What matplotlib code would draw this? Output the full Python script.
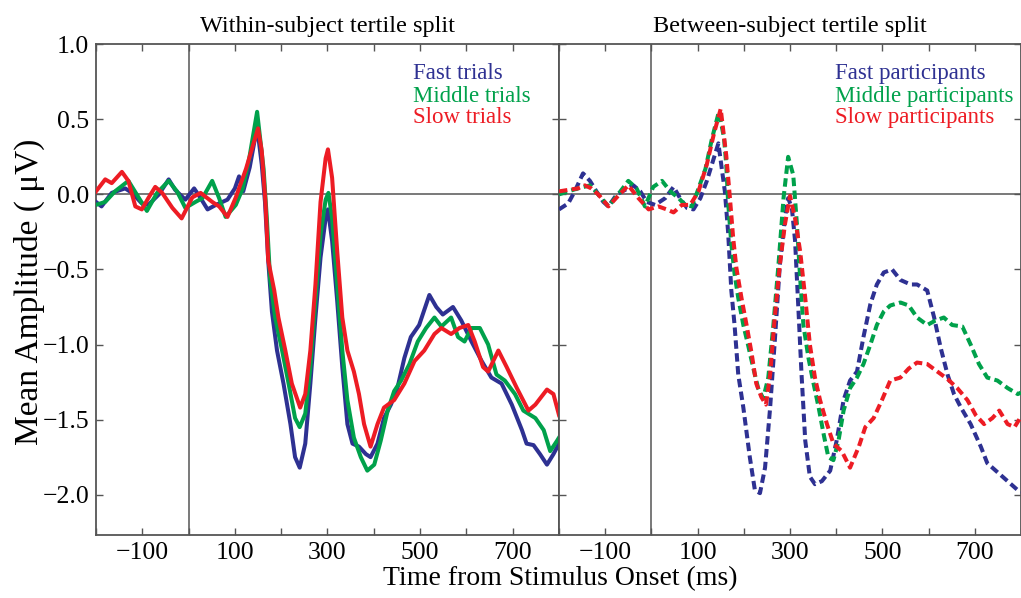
import numpy as np
import matplotlib
matplotlib.use("Agg")
import matplotlib.pyplot as plt

# within-subject split (solid lines), times in ms, amplitude in uV
t_fast_trials = [-200, -188, -166, -137, -122, -101, -87, -64, -43, -29, -7, 12, 26, 41, 59, 84, 100, 109, 118,
                 132, 148, 158, 165, 172, 180, 191, 205, 220, 230, 240, 252, 263, 274, 285, 296, 301, 310, 321,
                 332, 343, 354, 368, 383, 393, 408, 422, 437, 451, 466, 480, 498, 520, 535, 549, 571, 589, 611,
                 633, 654, 676, 698, 720, 730, 745, 759, 774, 788, 800]
v_fast_trials = [-0.05, -0.08, 0.01, 0.04, 0.01, -0.06, -0.07, 0.0, 0.10, 0.03, -0.035, 0.04, -0.025, -0.10, -0.07,
                 -0.035, 0.04, 0.12, 0.02, 0.18, 0.45, 0.20, -0.05, -0.44, -0.78, -1.04, -1.26, -1.53, -1.75, -1.82,
                 -1.66, -1.26, -0.82, -0.42, -0.16, -0.10, -0.31, -0.71, -1.15, -1.53, -1.66, -1.68, -1.73, -1.75,
                 -1.66, -1.49, -1.40, -1.29, -1.09, -0.95, -0.87, -0.67, -0.75, -0.80, -0.75, -0.84, -0.98, -1.11,
                 -1.22, -1.26, -1.40, -1.57, -1.66, -1.67, -1.73, -1.80, -1.73, -1.66]

t_mid_trials = [-200, -180, -159, -130, -112, -90, -68, -43, -25, -7, 15, 30, 51, 66, 80, 102, 117, 131, 148, 162,
                169, 176, 187, 202, 216, 230, 240, 252, 263, 274, 285, 296, 302, 310, 321, 332, 343, 357, 372, 386,
                401, 415, 430, 444, 459, 477, 495, 513, 531, 546, 567, 582, 596, 611, 629, 647, 665, 683, 705, 723,
                749, 767, 781, 796, 800]
v_mid_trials = [-0.07, -0.05, 0.02, 0.09, 0.0, -0.11, 0.01, 0.09, 0.02, -0.09, -0.05, -0.025, 0.09, -0.025, -0.15,
                -0.07, 0.04, 0.24, 0.55, 0.17, -0.16, -0.56, -0.82, -1.04, -1.26, -1.49, -1.55, -1.46, -1.15, -0.71,
                -0.27, -0.035, 0.01, -0.16, -0.60, -1.04, -1.37, -1.62, -1.75, -1.84, -1.80, -1.64, -1.44, -1.31,
                -1.24, -1.13, -0.98, -0.89, -0.82, -0.88, -0.82, -0.95, -0.98, -0.89, -0.89, -1.00, -1.20, -1.24,
                -1.33, -1.44, -1.49, -1.57, -1.71, -1.64, -1.62]

t_slow_trials = [-200, -180, -166, -144, -130, -115, -101, -87, -72, -57, -35, -15, 8, 26, 51, 66, 84, 102, 124,
                 150, 158, 166, 172, 185, 194, 209, 223, 241, 252, 263, 274, 285, 296, 301, 310, 321, 332, 343, 357,
                 368, 379, 393, 408, 422, 444, 466, 488, 509, 531, 546, 567, 585, 604, 618, 636, 647, 669, 687, 709,
                 734, 749, 774, 788, 800]
v_slow_trials = [0.02, 0.10, 0.075, 0.15, 0.09, -0.08, -0.10, -0.025, 0.05, 0.01, -0.09, -0.16, -0.02, 0.01, -0.05,
                 -0.08, -0.15, -0.02, 0.17, 0.44, 0.29, -0.05, -0.44, -0.64, -0.82, -1.04, -1.26, -1.42, -1.33,
                 -1.04, -0.60, -0.05, 0.24, 0.30, 0.11, -0.38, -0.82, -1.04, -1.18, -1.33, -1.53, -1.68, -1.53,
                 -1.42, -1.37, -1.26, -1.11, -1.04, -0.93, -0.89, -0.93, -0.89, -0.87, -0.98, -1.15, -1.18, -1.04,
                 -1.15, -1.29, -1.44, -1.40, -1.30, -1.33, -1.47]

# between-subject split (dashed lines)
t_fast_part = [-200, -180, -166, -148, -133, -119, -104, -93, -75, -57, -39, -24, -10, 8, 30, 48, 62, 77, 91, 106,
               120, 135, 145, 159, 166, 173, 180, 188, 199, 213, 224, 235, 246, 257, 267, 278, 289, 296, 304, 311,
               318, 325, 333, 343, 354, 369, 387, 401, 416, 430, 445, 459, 474, 488, 503, 521, 539, 561, 575, 597,
               612, 626, 641, 655, 670, 691, 713, 727, 749, 771, 793, 800]
v_fast_part = [-0.10, -0.06, 0.02, 0.14, 0.09, 0.02, -0.05, -0.08, 0.0, 0.03, 0.06, 0.02, -0.05, -0.07, -0.025, 0.05,
               -0.025, -0.09, -0.10, -0.025, 0.09, 0.24, 0.34, 0.02, -0.25, -0.64, -0.87, -1.20, -1.42, -1.75, -1.97,
               -1.99, -1.82, -1.42, -0.98, -0.47, -0.16, -0.025, -0.09, -0.31, -0.75, -1.20, -1.64, -1.88, -1.93,
               -1.91, -1.84, -1.64, -1.37, -1.24, -1.18, -0.95, -0.73, -0.60, -0.52, -0.50, -0.57, -0.60, -0.60,
               -0.64, -0.82, -1.02, -1.20, -1.33, -1.42, -1.53, -1.68, -1.79, -1.85, -1.91, -1.97, -1.98]

t_mid_part = [-200, -180, -159, -133, -115, -93, -72, -50, -32, -14, 4, 23, 41, 59, 73, 88, 102, 117, 131, 146,
              157, 162, 166, 173, 180, 188, 199, 209, 220, 231, 242, 253, 264, 275, 286, 296, 307, 315, 322, 329,
              340, 351, 362, 373, 383, 394, 405, 416, 430, 445, 459, 474, 488, 503, 517, 539, 557, 575, 597, 615,
              633, 651, 673, 691, 709, 727, 749, 771, 793, 800]
v_mid_part = [0.0, 0.02, 0.04, 0.06, 0.0, -0.08, 0.0, 0.09, 0.04, -0.08, 0.05, 0.09, 0.02, -0.025, -0.07, -0.08,
              0.04, 0.17, 0.37, 0.55, 0.38, 0.20, -0.05, -0.33, -0.53, -0.69, -0.87, -1.00, -1.15, -1.29, -1.36,
              -1.22, -0.87, -0.47, -0.025, 0.25, 0.13, -0.20, -0.56, -0.87, -1.09, -1.26, -1.42, -1.60, -1.75,
              -1.77, -1.64, -1.44, -1.29, -1.22, -1.13, -1.00, -0.87, -0.78, -0.74, -0.72, -0.74, -0.82, -0.87,
              -0.84, -0.82, -0.87, -0.88, -1.00, -1.13, -1.22, -1.24, -1.29, -1.33, -1.32]

t_slow_part = [-200, -180, -159, -144, -130, -115, -93, -72, -50, -28, -6, 15, 33, 48, 66, 84, 102, 120, 135, 150,
               162, 170, 177, 184, 195, 206, 217, 227, 238, 248, 257, 267, 278, 289, 300, 311, 322, 333, 343, 354,
               365, 380, 394, 412, 430, 449, 463, 481, 499, 517, 539, 557, 575, 597, 619, 641, 662, 684, 702, 720,
               738, 753, 771, 786, 800]
v_slow_part = [0.02, 0.03, 0.04, 0.06, 0.04, 0.0, -0.08, -0.01, 0.06, -0.025, -0.10, -0.08, -0.10, -0.12, -0.07,
               -0.07, 0.02, 0.20, 0.40, 0.57, 0.26, -0.025, -0.29, -0.49, -0.69, -0.87, -1.06, -1.26, -1.35, -1.40,
               -1.20, -0.82, -0.47, -0.20, -0.01, -0.16, -0.38, -0.69, -1.00, -1.22, -1.37, -1.53, -1.66, -1.71,
               -1.82, -1.68, -1.55, -1.49, -1.37, -1.24, -1.22, -1.16, -1.12, -1.13, -1.18, -1.23, -1.29, -1.37,
               -1.47, -1.53, -1.49, -1.44, -1.53, -1.55, -1.48]

labels_left = ["Fast trials", "Middle trials", "Slow trials"]
labels_right = ["Fast participants", "Middle participants", "Slow participants"]
colors = ["#2e3192", "#00a14b", "#ed1c24"]
xtick_vals = list(range(-200, 801, 100))
xtick_labels = ["" if v % 200 == 0 else str(v).replace("-", "\u2212") for v in xtick_vals]
ytick_vals = [-2.0, -1.5, -1.0, -0.5, 0.0, 0.5, 1.0]

plt.rcParams["font.family"] = ["Liberation Serif", "DejaVu Serif"]
plt.rcParams["axes.unicode_minus"] = True

fig = plt.figure(figsize=(10.21, 5.98), dpi=100)
ax1 = fig.add_axes([0.094, 0.105, 0.4535, 0.821])
ax2 = fig.add_axes([0.5475, 0.105, 0.4525, 0.821])

spine_col = "#555555"
for ax in (ax1, ax2):
    ax.set_xlim(-200, 800)
    ax.set_ylim(-2.27, 1.0)
    ax.axhline(0, color="#6e6e6e", lw=1.3, zorder=1)
    ax.axvline(0, color="#6e6e6e", lw=1.3, zorder=1)
    ax.set_xticks(xtick_vals)
    ax.set_xticklabels(xtick_labels)
    ax.set_yticks(ytick_vals)
    ax.tick_params(direction="in", length=5, width=1, color=spine_col, top=True, right=True,
                   labelsize=18.5, pad=5)
    for s in ax.spines.values():
        s.set_color(spine_col)
        s.set_linewidth(1.3)

ax1.set_yticklabels([f"{v:.1f}".replace("-", "\u2212") for v in ytick_vals])
ax2.set_yticklabels([])

left_series = [(t_fast_trials, v_fast_trials), (t_mid_trials, v_mid_trials), (t_slow_trials, v_slow_trials)]
right_series = [(t_fast_part, v_fast_part), (t_mid_part, v_mid_part), (t_slow_part, v_slow_part)]

for (t, v), c in zip(left_series, colors):
    ax1.plot(t, v, color=c, lw=2.9, solid_joinstyle="round", zorder=3)
for (t, v), c in zip(right_series, colors):
    ax2.plot(t, v, color=c, lw=2.9, linestyle=(0, (2.1, 1.1)), zorder=3)

leg_y = [0.941, 0.893, 0.850]
for lab, c, y in zip(labels_left, colors, leg_y):
    ax1.text(0.685, y, lab, color=c, fontsize=16.5, transform=ax1.transAxes, va="center", ha="left")
for lab, c, y in zip(labels_right, colors, leg_y):
    ax2.text(0.597, y, lab, color=c, fontsize=16.5, transform=ax2.transAxes, va="center", ha="left")

ax1.set_title("Within-subject tertile split", fontsize=17.5, pad=9)
ax2.set_title("Between-subject tertile split", fontsize=17.5, pad=9)

fig.text(0.549, 0.033, "Time from Stimulus Onset (ms)", fontsize=20, ha="center", va="center")
fig.text(0.029, 0.512, "Mean Amplitude ( \u03bcV)", fontsize=24, rotation=90, ha="center", va="center")

fig.savefig("out.png", dpi=100)
